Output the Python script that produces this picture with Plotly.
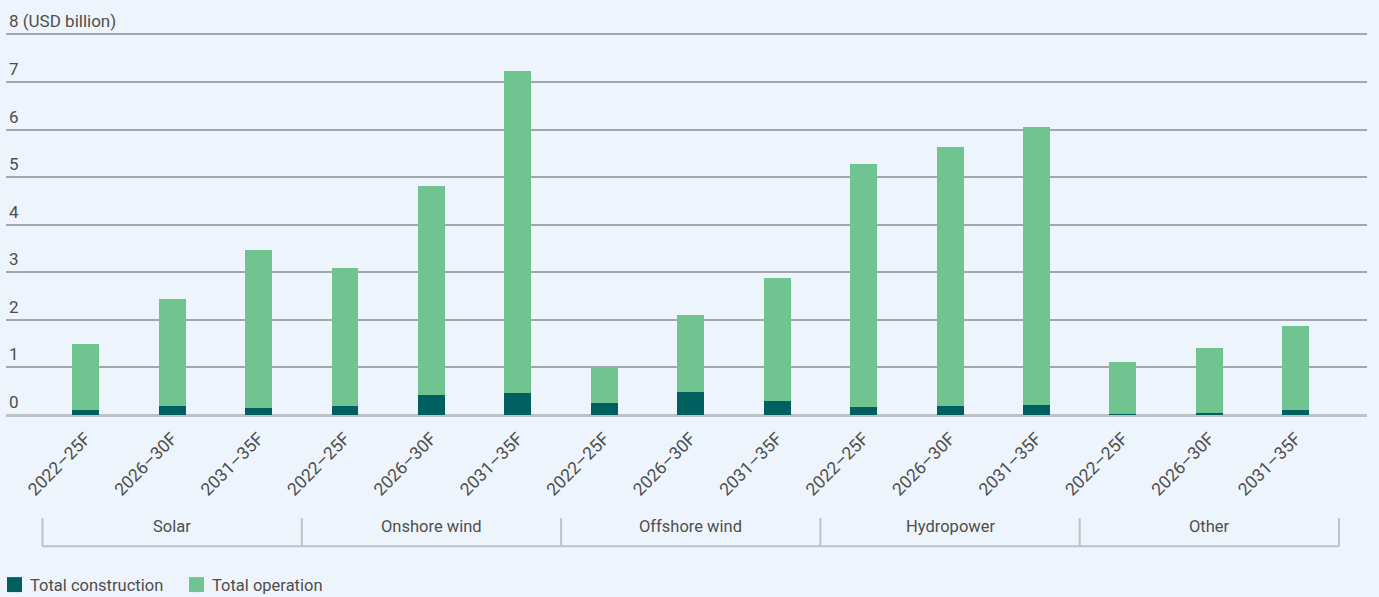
import plotly.graph_objects as go

# Investment by technology and period (USD billion)
groups = ["Solar", "Onshore wind", "Offshore wind", "Hydropower", "Other"]
periods = ["2022–25F", "2026–30F", "2031–35F"]
construction = [0.10, 0.18, 0.14,
                0.18, 0.41, 0.47,
                0.26, 0.49, 0.30,
                0.16, 0.18, 0.20,
                0.03, 0.05, 0.10]
operation = [1.40, 2.25, 3.32,
             2.90, 4.41, 6.77,
             0.74, 1.62, 2.57,
             5.12, 5.46, 5.86,
             1.09, 1.35, 1.78]
y_ticks = [0, 1, 2, 3, 4, 5, 6, 7, 8]
y_tick_text = ["0", "1", "2", "3", "4", "5", "6", "7", "8 (USD billion)"]
series_names = ["Total construction", "Total operation"]

BG = "#EEF4FB"
DARK = "#00605F"
LIGHT = "#6FC490"
TEXT = "#4E4E4E"
FONT = "Roboto, Arial, sans-serif"

W, H = 1379, 597
ML, MR, MB = 6, 12, 181.5
Y_MAX = 8.05                      # a little headroom so the top gridline is drawn
ZERO_PX, EIGHT_PX = 415.5, 34     # pixel rows of the 0 and 8 gridlines
MT = ZERO_PX - (ZERO_PX - EIGHT_PX) / 8 * Y_MAX
PLOT_W = W - ML - MR
PLOT_H = H - MT - MB


def px_x(px):
    return (px - ML) / PLOT_W


def px_y(py):
    return (H - MB - py) / PLOT_H


n = len(groups) * len(periods)
x_idx = list(range(n))
tick_labels = [p for g in groups for p in periods]

fig = go.Figure()
fig.add_trace(go.Bar(x=x_idx, y=construction, name=series_names[0],
                     marker=dict(color=DARK, line=dict(width=0)), width=0.312))
fig.add_trace(go.Bar(x=x_idx, y=operation, name=series_names[1],
                     marker=dict(color=LIGHT, line=dict(width=0)), width=0.312))

fig.update_layout(
    barmode="stack",
    width=W, height=H,
    margin=dict(l=ML, r=MR, t=MT, b=MB, autoexpand=False),
    paper_bgcolor=BG, plot_bgcolor=BG,
    font=dict(family=FONT, size=16.5, color=TEXT),
    showlegend=False,
    xaxis=dict(tickmode="array", tickvals=x_idx, ticktext=tick_labels,
               tickangle=-45, range=[-0.922, 14.824], showgrid=False,
               zeroline=False, showline=False, ticks="", automargin=False,
               ticklabelstandoff=9,
               tickfont=dict(size=17.5, color=TEXT, family=FONT)),
    yaxis=dict(range=[0, Y_MAX], tickvals=y_ticks, showticklabels=False,
               showgrid=True, gridcolor="#A3A6AA", gridwidth=1.5, automargin=False,
               zeroline=True, zerolinecolor="#BEC1C5", zerolinewidth=2.5),
    bargap=0,
)

# Y-axis labels sit just above each gridline at the left edge
for v, t in zip(y_ticks, y_tick_text):
    fig.add_annotation(x=0, xref="paper", y=v, yref="y", text=t, showarrow=False,
                       xanchor="left", yanchor="bottom", xshift=1, yshift=1,
                       font=dict(size=17, color=TEXT, family=FONT))

# Group brackets and labels below the period labels
line_style = dict(color="#BEC1C5", width=2)
y_top, y_bot = px_y(519), px_y(547)
for gi, g in enumerate(groups):
    left = gi * len(periods) - 0.5
    right = left + len(periods)
    fig.add_shape(type="line", xref="x", yref="paper", x0=left, x1=right,
                  y0=y_bot, y1=y_bot, line=line_style)
    fig.add_shape(type="line", xref="x", yref="paper", x0=left, x1=left,
                  y0=y_top, y1=y_bot, line=line_style)
    fig.add_annotation(x=gi * len(periods) + 1, xref="x", y=px_y(527), yref="paper",
                       text=g, showarrow=False, xanchor="center", yanchor="middle",
                       font=dict(size=16.5, color=TEXT, family=FONT))
last = len(groups) * len(periods) - 0.5
fig.add_shape(type="line", xref="x", yref="paper", x0=last, x1=last,
              y0=y_top, y1=y_bot, line=line_style)

# Legend: colour squares with labels along the bottom edge
legend_items = [(series_names[0], DARK, 7), (series_names[1], LIGHT, 189)]
for name, color, x0 in legend_items:
    fig.add_shape(type="rect", xref="paper", yref="paper",
                  x0=px_x(x0), x1=px_x(x0 + 15), y0=px_y(593), y1=px_y(578),
                  fillcolor=color, line=dict(width=0))
    fig.add_annotation(x=px_x(x0 + 21), xref="paper", y=px_y(586), yref="paper",
                       text=name, showarrow=False, xanchor="left", yanchor="middle",
                       font=dict(size=16.5, color=TEXT, family=FONT))

fig.write_html("out.html")
